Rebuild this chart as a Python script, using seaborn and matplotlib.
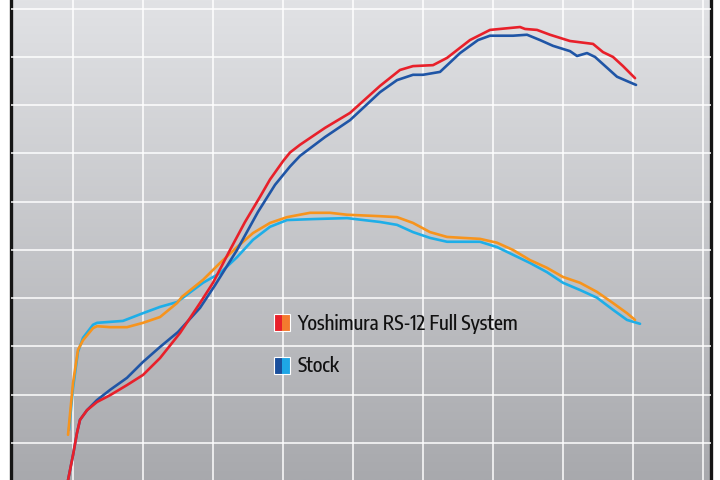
import numpy as np
import pandas as pd
import matplotlib
matplotlib.use("Agg")
import matplotlib.pyplot as plt
from matplotlib.patches import Rectangle
from matplotlib import font_manager
import seaborn as sns

# ---- data (rpm, value) ----
yosh_hp_rpm = [1929, 2000, 2057, 2100, 2200, 2343, 2529, 2771, 3000, 3243, 3529, 3814, 4000, 4243,
               4457, 4671, 4814, 5000, 5100, 5243, 5600, 5957, 6386, 6671, 6857, 7143, 7343, 7671,
               7957, 8386, 8457, 8629, 8814, 9100, 9429, 9571, 9714, 9857, 10029]
yosh_hp = [-7.7, -2.5, 2.1, 4.8, 6.8, 8.5, 9.9, 12.0, 14.1, 17.6, 22.8, 29.0, 33.2, 40.0,
           45.8, 51.0, 54.6, 58.4, 60.2, 61.8, 65.3, 68.4, 74.0, 77.3, 78.1, 78.3, 79.8, 83.5,
           85.6, 86.2, 85.8, 85.6, 84.6, 83.3, 82.7, 81.0, 80.0, 78.1, 75.6]

stock_hp_rpm = [1929, 2000, 2057, 2100, 2200, 2343, 2529, 2771, 3000, 3243, 3500, 3814, 4029, 4343,
                4643, 4886, 5100, 5243, 5600, 5957, 6386, 6629, 6857, 7000, 7243, 7529, 7786, 7957,
                8286, 8486, 8671, 8857, 9100, 9200, 9343, 9457, 9771, 9914, 10043]
stock_hp = [-7.7, -2.5, 2.1, 4.8, 6.8, 8.9, 11.0, 13.5, 16.8, 19.9, 23.0, 28.0, 32.7, 40.0,
            47.9, 53.5, 57.3, 59.5, 63.4, 66.9, 72.7, 75.2, 76.3, 76.3, 76.9, 80.8, 83.5, 84.4,
            84.4, 84.6, 83.5, 82.3, 81.2, 80.2, 80.8, 80.0, 75.9, 75.0, 74.2]

yosh_tq_rpm = [1929, 2000, 2071, 2143, 2286, 2343, 2529, 2771, 3000, 3243, 3486, 3557, 3857, 4100,
               4343, 4571, 4814, 5057, 5386, 5671, 5914, 6386, 6629, 6857, 7100, 7343, 7571, 7814,
               8057, 8286, 8529, 8771, 9000, 9243, 9486, 9714, 9914, 10029]
yosh_tq = [1.7, 12.4, 19.3, 21.3, 23.8, 24.2, 24.0, 24.0, 24.9, 26.1, 29.0, 30.3, 33.8, 37.3,
           40.6, 43.5, 45.6, 46.8, 47.7, 47.7, 47.3, 47.0, 46.8, 45.6, 43.7, 42.7, 42.5, 42.3,
           41.5, 40.0, 37.9, 36.3, 34.4, 33.2, 31.3, 29.0, 26.9, 25.5]

stock_tq_rpm = [1943, 2000, 2071, 2143, 2286, 2343, 2529, 2714, 2857, 3000, 3243, 3486, 3857, 4100,
                4343, 4571, 4814, 5057, 5429, 5914, 6386, 6629, 6857, 7100, 7343, 7571, 7814, 8057,
                8286, 8529, 8771, 9000, 9243, 9486, 9714, 9914, 10100]
stock_tq = [2.7, 11.4, 18.9, 21.8, 24.5, 24.9, 25.1, 25.3, 26.1, 26.9, 28.2, 29.2, 33.2, 35.2,
            38.5, 42.1, 44.8, 46.2, 46.4, 46.6, 45.8, 45.2, 43.7, 42.5, 41.7, 41.7, 41.7, 40.6,
            39.0, 37.3, 35.4, 33.2, 31.7, 30.1, 27.6, 25.5, 24.7]

legend_labels = ["Yoshimura RS-12 Full System", "Stock"]

# ---- build long table ----
frames = []
for name, xs, ys in [("yosh_hp", yosh_hp_rpm, yosh_hp), ("stock_hp", stock_hp_rpm, stock_hp),
                     ("yosh_tq", yosh_tq_rpm, yosh_tq), ("stock_tq", stock_tq_rpm, stock_tq)]:
    frames.append(pd.DataFrame({"rpm": xs, "value": ys, "series": name}))
df = pd.concat(frames, ignore_index=True)

palette = {"yosh_hp": "#e8202a", "stock_hp": "#1f55a6",
           "yosh_tq": "#f7941d", "stock_tq": "#1eaee8"}

sns.set_theme(style="white")

cond = None
for f in font_manager.fontManager.ttflist:
    n = f.name.lower()
    if ("narrow" in n or "condensed" in n) and "sans" in n:
        cond = f.name
        break
label_family = [cond, 'Roboto', 'DejaVu Sans'] if cond else ['Roboto', 'DejaVu Sans']
plt.rcParams['font.family'] = ['Roboto', 'DejaVu Sans']

fig = plt.figure(figsize=(7.2, 4.8), dpi=100)
ax = fig.add_axes([10.5 / 720, 0, (711 - 10.5) / 720, 1])

xmin, xmax = 1107, 11114
ymin, ymax = -7.67, 91.8
ax.set_xlim(xmin, xmax)
ax.set_ylim(ymin, ymax)

# gradient background
grad = np.linspace(0, 1, 256).reshape(-1, 1)
top = np.array([225, 226, 229]) / 255
bot = np.array([168, 169, 173]) / 255
img = top[None, None, :] * (1 - grad[:, :, None]) + bot[None, None, :] * grad[:, :, None]
ax.imshow(img, extent=[xmin, xmax, ymin, ymax], aspect="auto", origin="upper", zorder=0)

ax.set_xticks(np.arange(2000, 11001, 1000))
ax.set_yticks(np.arange(0, 91, 10))
ax.grid(True, color="white", linewidth=1.2, alpha=0.9, zorder=1)
ax.set_axisbelow(False)
ax.tick_params(left=False, bottom=False, labelleft=False, labelbottom=False)

for s in ["stock_tq", "yosh_tq", "stock_hp", "yosh_hp"]:
    sub = df[df["series"] == s]
    sns.lineplot(data=sub, x="rpm", y="value", color=palette[s], linewidth=1.9,
                 sort=False, estimator=None, ax=ax, zorder=3, legend=False)
for line in ax.get_lines():
    line.set_solid_joinstyle("round")
    line.set_solid_capstyle("round")

ax.set_xlabel("")
ax.set_ylabel("")

for side in ["top", "bottom"]:
    ax.spines[side].set_visible(False)
for side in ["left", "right"]:
    ax.spines[side].set_visible(True)
    ax.spines[side].set_color("#151515")
    ax.spines[side].set_linewidth(2.4)

def px(x, y):
    return x / 720, 1 - y / 480

def square(x0, y0, c1, c2):
    w, h = 16, 17
    fx, fy = px(x0, y0 + h)
    fig.patches.append(Rectangle((fx, fy), w / 2 / 720, h / 480, transform=fig.transFigure,
                                 facecolor=c1, edgecolor="none", zorder=5))
    fig.patches.append(Rectangle((fx + w / 2 / 720, fy), w / 2 / 720, h / 480, transform=fig.transFigure,
                                 facecolor=c2, edgecolor="none", zorder=5))
    fig.patches.append(Rectangle((fx, fy), w / 720, h / 480, transform=fig.transFigure,
                                 facecolor="none", edgecolor="white", linewidth=0.8, zorder=6))

square(274, 314, "#e8202a", "#f47a2e")
square(274, 357, "#1a4f9c", "#1ea6e6")

t1 = fig.text(297 / 720, 1 - 323.5 / 480, legend_labels[0], fontsize=14, color="#111111",
              va="center", ha="left", family=label_family, fontweight="medium")
t2 = fig.text(297 / 720, 1 - 366.5 / 480, legend_labels[1], fontsize=14, color="#111111",
              va="center", ha="left", family=label_family, fontweight="medium")

fig.canvas.draw()
wpx = t1.get_window_extent().width
size = min(14 * 221 / wpx, 15)
t1.set_fontsize(size)
t2.set_fontsize(size)

fig.savefig("out.png", dpi=100, facecolor="white")
